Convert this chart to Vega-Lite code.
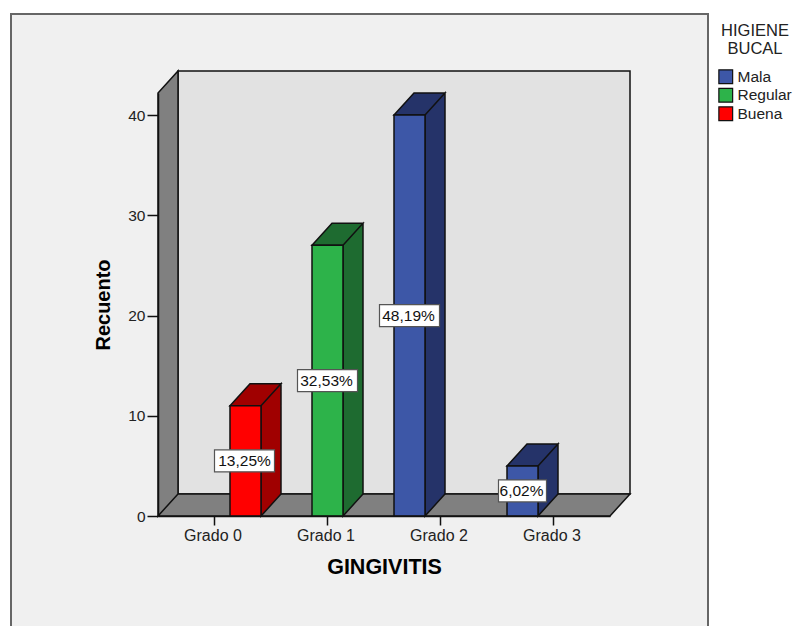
{
  "$schema": "https://vega.github.io/schema/vega-lite/v6.json",
  "width": 452,
  "height": 423,
  "autosize": {"type": "none"},
  "padding": {"left": 158, "top": 93, "right": 185, "bottom": 110},
  "background": "#ffffff",
  "config": {
    "view": {"stroke": null},
    "font": "Liberation Sans",
    "axis": {"grid": false, "domainColor": "#111111", "tickColor": "#111111", "labelColor": "#222222", "titleColor": "#000000", "domainWidth": 1.5, "tickWidth": 1.5}
  },
  "datasets": {
    "conteos": [
      {"grado": "Grado 0", "higiene": "Buena", "recuento": 11, "etiqueta": "13,25%"},
      {"grado": "Grado 1", "higiene": "Regular", "recuento": 27, "etiqueta": "32,53%"},
      {"grado": "Grado 2", "higiene": "Mala", "recuento": 40, "etiqueta": "48,19%"},
      {"grado": "Grado 3", "higiene": "Mala", "recuento": 5, "etiqueta": "6,02%"}
    ],
    "ancla": [{"grado": "Grado 0", "origen": 0}]
  },
  "encoding": {
    "x": {
      "field": "grado",
      "type": "nominal",
      "scale": {"domain": ["Grado 0", "Grado 1", "Grado 2", "Grado 3"], "paddingInner": 0.177, "paddingOuter": 0.0885},
      "axis": {"zindex": 1, "title": "GINGIVITIS", "titleFontSize": 21.5, "titleFontWeight": "bold", "titlePadding": 13, "labelAngle": 0, "labelFontSize": 16, "labelPadding": 2, "labelOffset": -1.5, "tickSize": 9}
    }
  },
  "layer": [
    {
      "description": "Panel gris de fondo",
      "data": {"name": "ancla"},
      "mark": {"type": "point", "filled": true, "opacity": 1, "size": 4, "fill": "#f0f0f0", "stroke": "#666666", "strokeWidth": 2, "shape": "M-203.5,-502 L493.5,-502 L493.5,125 L-203.5,125 Z"},
      "encoding": {
        "y": {
          "field": "origen",
          "type": "quantitative",
          "scale": {"domain": [0, 42.2], "nice": false, "zero": true},
          "axis": {"zindex": 1, "title": "Recuento", "titleFontSize": 20, "titleFontWeight": "bold", "titlePadding": 14, "values": [0, 10, 20, 30, 40], "labelFontSize": 15.5, "labelPadding": 2, "tickSize": 11}
        }
      }
    },
    {
      "description": "Pared del fondo",
      "data": {"name": "ancla"},
      "mark": {"type": "point", "filled": true, "opacity": 1, "size": 4, "fill": "#e2e2e2", "stroke": "#111111", "strokeWidth": 1.5, "shape": "M-36.5,-445 L415.5,-445 L415.5,-22 L-36.5,-22 Z"},
      "encoding": {"y": {"field": "origen", "type": "quantitative"}}
    },
    {
      "description": "Pared izquierda y suelo",
      "data": {"name": "ancla"},
      "mark": {"type": "point", "filled": true, "opacity": 1, "size": 4, "fill": "#808080", "stroke": "#111111", "strokeWidth": 1.5, "shape": "M-56.5,0 L-56.5,-423 L-36.5,-445 L-36.5,-22 Z M-56.5,0 L-36.5,-22 L415.5,-22 L395.5,0 Z"},
      "encoding": {"y": {"field": "origen", "type": "quantitative"}}
    },
    {
      "description": "Caras superior y lateral de cada barra",
      "data": {"name": "conteos"},
      "mark": {"type": "point", "filled": true, "opacity": 1, "size": 4, "stroke": "#111111", "strokeWidth": 1.5},
      "encoding": {
        "xOffset": {"field": "higiene", "type": "nominal", "scale": {"domain": ["Mala", "Regular", "Buena"], "paddingInner": 0, "paddingOuter": 0}},
        "y": {"field": "recuento", "type": "quantitative"},
        "fill": {
          "field": "higiene",
          "type": "nominal",
          "scale": {"domain": ["Mala", "Regular", "Buena"], "range": ["#253369", "#1e6b30", "#a00000"]},
          "legend": null
        },
        "shape": {
          "field": "recuento",
          "type": "nominal",
          "legend": null,
          "scale": {
            "domain": [5, 11, 27, 40],
            "range": [
              "M-15.5,0 L4.5,-22 L35.5,-22 L15.5,0 Z M15.5,0 L35.5,-22 L35.5,28.1 L15.5,50.1 Z",
              "M-15.5,0 L4.5,-22 L35.5,-22 L15.5,0 Z M15.5,0 L35.5,-22 L35.5,88.3 L15.5,110.3 Z",
              "M-15.5,0 L4.5,-22 L35.5,-22 L15.5,0 Z M15.5,0 L35.5,-22 L35.5,248.7 L15.5,270.7 Z",
              "M-15.5,0 L4.5,-22 L35.5,-22 L15.5,0 Z M15.5,0 L35.5,-22 L35.5,379 L15.5,401 Z"
            ]
          }
        }
      }
    },
    {
      "description": "Cara frontal de cada barra",
      "data": {"name": "conteos"},
      "mark": {"type": "bar", "stroke": "#111111", "strokeWidth": 1.5},
      "encoding": {
        "xOffset": {"field": "higiene", "type": "nominal", "scale": {"domain": ["Mala", "Regular", "Buena"], "paddingInner": 0, "paddingOuter": 0}},
        "y": {"field": "recuento", "type": "quantitative"},
        "fill": {
          "field": "higiene",
          "type": "nominal",
          "scale": {"domain": ["Mala", "Regular", "Buena"], "range": ["#3d57a7", "#2db34a", "#ff0000"]},
          "legend": {
            "orient": "none",
            "legendX": 560,
            "legendY": -70,
            "title": ["HIGIENE", "BUCAL"],
            "titleFontSize": 16.5,
            "titleFontWeight": "normal",
            "titleColor": "#222222",
            "titleAlign": "center",
            "titleAnchor": "middle",
            "titleLineHeight": 17.5,
            "titlePadding": 12,
            "labelFontSize": 15.5,
            "labelColor": "#222222",
            "labelOffset": 4,
            "symbolType": "square",
            "symbolSize": 190,
            "symbolStrokeColor": "#111111",
            "symbolStrokeWidth": 1.2,
            "rowPadding": -1.5
          }
        }
      }
    },
    {
      "description": "Recuadro blanco de cada porcentaje",
      "data": {"name": "conteos"},
      "transform": [{"calculate": "datum.recuento / 2", "as": "mitad"}],
      "mark": {"type": "point", "filled": true, "opacity": 1, "size": 4, "fill": "#ffffff", "stroke": "#555555", "strokeWidth": 1.2},
      "encoding": {
        "xOffset": {"field": "higiene", "type": "nominal", "scale": {"domain": ["Mala", "Regular", "Buena"], "paddingInner": 0, "paddingOuter": 0}},
        "y": {"field": "mitad", "type": "quantitative"},
        "shape": {
          "field": "etiqueta",
          "type": "nominal",
          "legend": null,
          "scale": {
            "domain": ["13,25%", "32,53%", "48,19%", "6,02%"],
            "range": [
              "M-31,-11 L29,-11 L29,11 L-31,11 Z",
              "M-30,-11 L30,-11 L30,11 L-30,11 Z",
              "M-30,-11 L30,-11 L30,11 L-30,11 Z",
              "M-24,-11 L24,-11 L24,11 L-24,11 Z"
            ]
          }
        }
      }
    },
    {
      "description": "Porcentaje de cada barra",
      "data": {"name": "conteos"},
      "transform": [{"calculate": "datum.recuento / 2", "as": "mitad"}],
      "mark": {"type": "text", "fontSize": 15.5, "dx": -1, "color": "#111111", "align": "center", "baseline": "middle"},
      "encoding": {
        "xOffset": {"field": "higiene", "type": "nominal", "scale": {"domain": ["Mala", "Regular", "Buena"], "paddingInner": 0, "paddingOuter": 0}},
        "y": {"field": "mitad", "type": "quantitative"},
        "text": {"field": "etiqueta", "type": "nominal"}
      }
    }
  ],
  "resolve": {"scale": {"fill": "independent", "shape": "independent"}}
}
